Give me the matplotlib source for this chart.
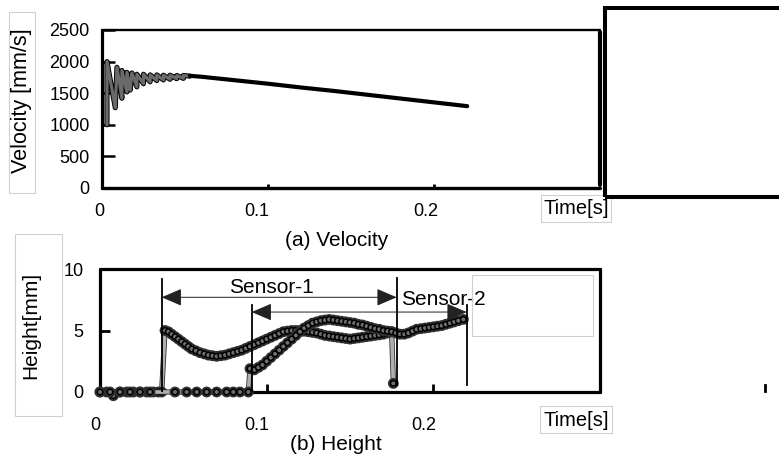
import matplotlib
matplotlib.use("Agg")
import matplotlib.pyplot as plt
import matplotlib.patheffects as pe
from matplotlib.patches import Rectangle
from matplotlib.lines import Line2D
from matplotlib.transforms import ScaledTranslation

plt.rcParams['font.family'] = ['Liberation Sans', 'DejaVu Sans']

# ---------------- data ----------------
# (a) velocity: early oscillation, then steady decay
vel_osc_t = [0.003, 0.003, 0.008, 0.009, 0.012, 0.012, 0.015, 0.015, 0.017, 0.018,
             0.021, 0.021, 0.025, 0.025, 0.029, 0.029, 0.033, 0.033, 0.037, 0.037,
             0.041, 0.041, 0.045, 0.045, 0.049, 0.049, 0.053]
vel_osc_v = [1000, 2000, 1270, 1910, 1420, 1860, 1520, 1830, 1550, 1820,
             1600, 1800, 1650, 1800, 1680, 1790, 1700, 1790, 1710, 1785,
             1720, 1785, 1730, 1780, 1735, 1780, 1770]
vel_dec_t = [0.053, 0.06, 0.08, 0.10, 0.12, 0.14, 0.16, 0.18, 0.20, 0.22]
vel_dec_v = [1775, 1760, 1705, 1650, 1590, 1535, 1475, 1415, 1355, 1295]

# (b) height, sensor-1 and sensor-2
h1_t = [0.0, 0.004, 0.008, 0.012, 0.016, 0.020, 0.024, 0.028, 0.032, 0.035, 0.037,
        0.039, 0.041, 0.043, 0.045, 0.047, 0.049, 0.051, 0.053, 0.055, 0.0575,
        0.060, 0.0625, 0.065, 0.0675, 0.070, 0.0725, 0.075, 0.0775, 0.080, 0.0825,
        0.085, 0.0875, 0.090, 0.0925, 0.095, 0.0975, 0.100, 0.1025, 0.105, 0.1075,
        0.110, 0.1125, 0.115, 0.1175, 0.120, 0.1225, 0.125, 0.1275, 0.130, 0.1325,
        0.135, 0.1375, 0.140, 0.1425, 0.145, 0.1475, 0.150, 0.1525, 0.155, 0.1575,
        0.160, 0.1625, 0.165, 0.1675, 0.170, 0.1725, 0.175, 0.176]
h1_v = [0.0, 0.0, -0.3, 0.0, 0.0, 0.0, 0.0, 0.0, 0.0, 0.0, 0.0,
        5.0, 4.9, 4.7, 4.5, 4.3, 4.1, 3.9, 3.7, 3.5, 3.35,
        3.2, 3.1, 3.0, 2.95, 2.9, 2.95, 3.0, 3.1, 3.2, 3.3,
        3.4, 3.55, 3.7, 3.85, 4.0, 4.15, 4.3, 4.45, 4.6, 4.75,
        4.9, 4.95, 5.0, 5.0, 5.0, 4.95, 4.9, 4.85, 4.8, 4.7,
        4.6, 4.55, 4.5, 4.45, 4.4, 4.35, 4.3, 4.35, 4.4, 4.45,
        4.5, 4.55, 4.6, 4.65, 4.7, 4.8, 4.9, 0.7]
h2_t = [0.0, 0.006, 0.012, 0.018, 0.024, 0.030, 0.045, 0.052, 0.058, 0.064,
        0.070, 0.076, 0.080, 0.084, 0.089,
        0.090, 0.0925, 0.095, 0.0975, 0.100, 0.1025, 0.105, 0.1075, 0.110, 0.1125,
        0.115, 0.1175, 0.120, 0.1225, 0.125, 0.1275, 0.130, 0.1325, 0.135, 0.1375,
        0.140, 0.1425, 0.145, 0.1475, 0.150, 0.1525, 0.155, 0.1575, 0.160, 0.1625,
        0.165, 0.1675, 0.170, 0.1725, 0.175, 0.1775, 0.180, 0.1825, 0.185, 0.1875,
        0.190, 0.1925, 0.195, 0.1975, 0.200, 0.2025, 0.205, 0.2075, 0.210, 0.2125,
        0.215, 0.218]
h2_v = [0.0, 0.0, 0.0, 0.0, 0.0, 0.0, 0.0, 0.0, 0.0, 0.0,
        0.0, 0.0, 0.0, 0.0, 0.0,
        1.9, 1.8, 2.0, 2.2, 2.5, 2.8, 3.1, 3.4, 3.7, 4.0,
        4.3, 4.6, 4.9, 5.2, 5.4, 5.6, 5.7, 5.8, 5.85, 5.9,
        5.85, 5.8, 5.75, 5.7, 5.65, 5.6, 5.5, 5.45, 5.35, 5.25,
        5.15, 5.1, 5.0, 4.95, 4.9, 4.8, 4.7, 4.7, 4.8, 4.95,
        5.1, 5.15, 5.2, 5.25, 5.3, 5.35, 5.4, 5.5, 5.6, 5.7,
        5.8, 5.9]

# sensor range annotations
sensor_names = ['Sensor-1', 'Sensor-2']
sensor_start = [0.037, 0.091]
sensor_end = [0.178, 0.220]
sensor_arrow_y = [7.7, 6.5]
sensor_top_start = [9.2, 7.1]
sensor_top_end = [9.3, 7.1]
sensor_bot_start = [0.0, 0.0]
sensor_bot_end = [0.6, 0.6]
sensor_label_x = [0.103, 0.206]
sensor_label_y = [8.5, 7.5]

x_ticks = [0, 0.1, 0.2]
x_ticklabels = ['0', '0.1', '0.2']
vel_ticks = [0, 500, 1000, 1500, 2000, 2500]
h_ticks = [0, 5, 10]

# ---------------- figure ----------------
W, H = 779, 459
fig = plt.figure(figsize=(W / 100, H / 100), dpi=100)


def fr(x0, y0, x1, y1):
    return [x0 / W, 1 - y1 / H, (x1 - x0) / W, (y1 - y0) / H]


def fp(x, y):
    return x / W, 1 - y / H


def box(x0, y0, x1, y1, ec='#d0d0d0', lw=0.8, zorder=1):
    fig.patches.append(Rectangle(fp(x0, y1), (x1 - x0) / W, (y1 - y0) / H,
                                 transform=fig.transFigure, fill=False,
                                 ec=ec, lw=lw, zorder=zorder))


# ----- (a) velocity axes -----
ax1 = fig.add_axes(fr(102, 30, 600, 188))
ax1.set_xlim(0, 0.3)
ax1.set_ylim(0, 2500)
osc, = ax1.plot(vel_osc_t, vel_osc_v, color='#6a6a6a', lw=2.3,
                solid_joinstyle='round', solid_capstyle='round', zorder=3)
osc.set_path_effects([pe.Stroke(linewidth=3.7, foreground='black'), pe.Normal()])
ax1.plot(vel_dec_t, vel_dec_v, color='black', lw=3.0, solid_capstyle='round', zorder=3)

ax1.set_yticks(vel_ticks)
ax1.set_yticklabels([str(v) for v in vel_ticks], fontsize=13)
ax1.tick_params(axis='y', direction='in', length=9, width=1.8, pad=9)
ax1.set_xticks(x_ticks)
ax1.set_xticklabels([])
ax1.tick_params(axis='x', direction='in', length=3, width=2)
for s, lw in [('left', 2.3), ('bottom', 2.4), ('top', 1.7), ('right', 3.0)]:
    ax1.spines[s].set_linewidth(lw)
    ax1.spines[s].set_capstyle('round')
ax1.spines['right'].set_bounds(50, 2470)
for v, lab, dx in zip(x_ticks, x_ticklabels, [-3, -11, -8]):
    ax1.text(v, 0, lab, fontsize=13, ha='center', va='center',
             transform=ax1.get_xaxis_transform()
             + ScaledTranslation(dx / 100, -24 / 100, fig.dpi_scale_trans))

# ----- (b) height axes -----
ax2 = fig.add_axes(fr(100, 269, 600, 392))
ax2.set_xlim(0, 0.3)
ax2.set_ylim(0, 10)
for t, v in [(h1_t, h1_v), (h2_t, h2_v)]:
    ln, = ax2.plot(t, v, color='#b0b0b0', lw=2.6, marker='o', markersize=4.0,
                   mfc='#6e6e6e', mec='black', mew=1.1, zorder=3, clip_on=False,
                   solid_joinstyle='round')
    ln.set_path_effects([pe.Stroke(linewidth=3.8, foreground='#303030'), pe.Normal()])

for i in range(len(sensor_names)):
    ax2.plot([sensor_start[i]] * 2, [sensor_bot_start[i], sensor_top_start[i]],
             color='black', lw=1.3, zorder=4)
    ax2.plot([sensor_end[i]] * 2, [sensor_bot_end[i], sensor_top_end[i]],
             color='black', lw=1.3, zorder=4)
    ax2.annotate('', xy=(sensor_end[i], sensor_arrow_y[i]),
                 xytext=(sensor_start[i], sensor_arrow_y[i]),
                 arrowprops=dict(arrowstyle='<|-|>,head_length=0.7,head_width=0.3',
                                 color='#222222', lw=0.7,
                                 mutation_scale=18, shrinkA=0, shrinkB=0),
                 zorder=4)
    ax2.text(sensor_label_x[i], sensor_label_y[i], sensor_names[i], fontsize=15,
             ha='center', va='center', zorder=5)

ax2.set_yticks(h_ticks)
ax2.set_yticklabels([str(v) for v in h_ticks], fontsize=13)
ax2.tick_params(axis='y', direction='in', length=7, width=2, pad=12)
ax2.set_xticks(x_ticks)
ax2.set_xticklabels([])
ax2.tick_params(axis='x', direction='in', length=6, width=2)
for s in ['left', 'bottom', 'top', 'right']:
    ax2.spines[s].set_linewidth(2.3)
    ax2.spines[s].set_capstyle('round')
for v, lab, dx in zip(x_ticks, x_ticklabels, [-5, -10, -10]):
    ax2.text(v, 0, lab, fontsize=13, ha='center', va='center',
             transform=ax2.get_xaxis_transform()
             + ScaledTranslation(dx / 100, -33 / 100, fig.dpi_scale_trans))

# ----- frames, labels, decorations -----
box(9, 12, 35, 193)
fig.text(*fp(22, 101), 'Velocity [mm/s]', rotation=90, fontsize=15.5,
         ha='center', va='center')
box(15, 234, 62, 416)
fig.text(*fp(31, 325), 'Height[mm]', rotation=90, fontsize=15,
         ha='center', va='center')
box(541, 195, 611, 222)
fig.text(*fp(576, 209), 'Time[s]', fontsize=14.5, ha='center', va='center')
box(540, 406, 612, 433)
fig.text(*fp(576, 420), 'Time[s]', fontsize=14.5, ha='center', va='center')
fig.text(*fp(337, 241), '(a) Velocity', fontsize=15, ha='center', va='center')
fig.text(*fp(336, 444), '(b) Height', fontsize=15, ha='center', va='center')

# light grey empty legend frame inside (b)
box(472, 275, 593, 336, ec='#cfcfcf', lw=0.8, zorder=5)
# heavy empty frame at top right
box(605, 8, 820, 197, ec='black', lw=2.9, zorder=6)
# stray small mark
fig.lines.append(Line2D([765 / W, 765 / W], [1 - 385 / H, 1 - 391 / H],
                        transform=fig.transFigure, color='black', lw=2))

fig.savefig('out.png', dpi=100)
